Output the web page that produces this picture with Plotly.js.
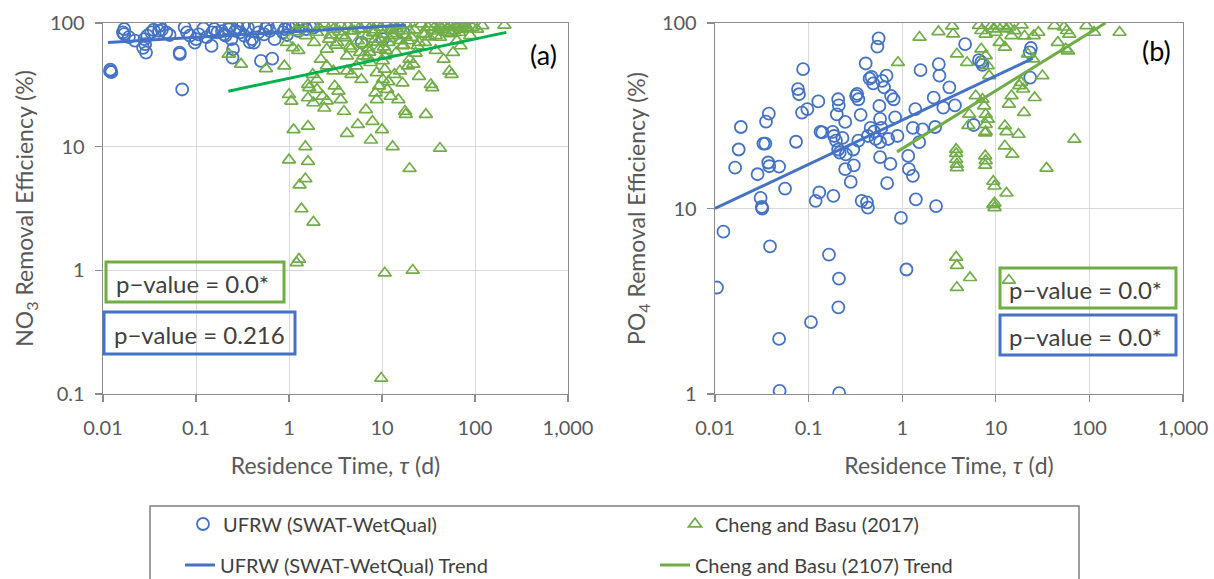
<!DOCTYPE html>
<html>
<head>
<meta charset="utf-8">
<script src="https://cdn.plot.ly/plotly-3.0.1.min.js"></script>
<style>
  html, body { margin: 0; padding: 0; background: #ffffff; }
  #chart { width: 1214px; height: 579px; }
</style>
</head>
<body>
<div id="chart"></div>
<script>
// ---- Residence time (d) vs NO3 removal efficiency (%) ----
const ufrwNo3Tau = [0.0119, 0.0123, 0.012, 0.0169, 0.0169, 0.0164, 0.0279, 0.0284, 0.029, 0.027, 0.03, 0.033,
  0.0407, 0.04, 0.043, 0.048, 0.0667, 0.071, 0.067, 0.0755, 0.08, 0.086, 0.1, 0.097, 0.107, 0.147, 0.15, 0.157,
  0.17, 0.2, 0.208, 0.225, 0.23, 0.24, 0.247, 0.25, 0.265, 0.28, 0.3, 0.33, 0.36, 0.4, 0.42, 0.44, 0.47, 0.5,
  0.54, 0.59, 0.62, 0.66, 0.7, 0.86, 0.9, 1.0, 1.1, 1.2, 1.26, 1.53, 1.67, 1.85, 6.05, 10.2, 17,
  0.019, 0.022, 0.035, 0.052, 0.12, 0.13, 0.19, 0.32, 0.38, 0.56, 0.75, 0.95, 1.4];
const ufrwNo3Eff = [40.8, 40, 42, 89.3, 81.4, 84, 74, 67.4, 57.7, 63, 79, 84,
  95, 86.5, 88.2, 84, 57.7, 29, 56, 92, 84, 79, 74, 69.5, 81, 65.3, 84, 89.3,
  84, 81, 79, 89, 95, 74, 52.5, 61.4, 86.5, 92, 84, 79, 92, 74, 69.5, 95, 84, 49.4,
  81, 95, 86.5, 51.5, 74, 84, 89.3, 92, 95, 98, 86.5, 89.3, 95, 92, 69.5, 74, 84,
  77, 72, 88, 80, 90, 77, 86, 96, 70, 90, 93, 80, 97];

const chengNo3Tau = [0.225, 0.305, 0.565, 0.89, 0.95, 1.0, 1.06, 1.12, 1.6, 1.0, 1.5, 1.6, 1.5, 1.3, 1.36, 1.83,
  1.6, 1.65, 1.6, 1.83, 2.0, 2.3, 2.4, 2.55, 3.1, 3.4, 3.6, 3.9, 4.2, 5.5, 4.7, 5.3, 6.0, 6.7, 7.9, 7.6, 10,
  8.5, 8.8, 9.3, 10.2, 11.4, 11.7, 12.4, 13, 13.6, 15, 16.6, 17.7, 18, 19.0, 19.8, 19.8, 25, 29.6, 33.5, 34.7,
  42, 53, 56, 46, 58, 70, 37.8, 25,
  1.37, 1.53, 1.86, 2.0, 2.4, 2.55, 2.7, 3.0, 3.3, 3.6, 3.7, 4.2, 4.3, 4.5, 4.8, 5.2, 5.5, 5.8, 6.0, 6.7, 6.9,
  7.1, 7.5, 7.7, 8.0, 8.5, 8.8, 9.3, 9.7, 10.2, 10.7, 11.3, 11.7, 12.4, 13, 13.6, 14.2, 15, 15.6, 16.5, 17.9,
  18.3, 19, 19.8, 21.7, 24.1, 26.5, 29, 33.4, 36.6, 37.8, 42, 44, 46, 48.6, 51, 53.5, 56.5, 59, 62, 65, 67.5,
  70.5, 74, 77.5, 84.6, 94, 105, 120, 207, 1.26, 1.1, 2.2, 2.55, 3.0, 2.0, 1.8, 4.2, 10.7, 15.6, 6.3, 8.8,
  10.2, 20.8, 29, 42, 67.5, 89,
  1.21, 1.28, 10.7, 21.4, 9.8,
  2.8, 3.2, 4.0, 5.0, 6.4, 7.3, 8.3, 9.0, 10.5, 12.0, 14.0, 16.0, 22.5, 27.5, 31.0, 2.1, 3.5, 4.6, 7.0, 9.5,
  11.0, 13.3, 17.0, 23.0, 32.0, 40.0, 55.0, 64.0, 80.0, 1.15, 1.45, 2.9, 5.6, 8.1, 12.8];
const chengNo3Eff = [55.9, 46.4, 42.7, 44.9, 69.5, 26.4, 23.3, 13.7, 14.6, 7.8, 10, 7.6, 5.5, 4.9, 3.14, 2.45,
  31.8, 30, 24.8, 22.6, 29, 25.6, 20.5, 23.4, 30.9, 28.1, 24, 19.3, 12.8, 15.1, 38.4, 44.9, 34.9, 19.9, 16, 11.3, 13.7,
  27.2, 24, 30.9, 34.9, 29, 33.5, 25.5, 10, 38.4, 24, 32.7, 19.3, 18.2, 44.9, 6.65, 50.9, 37, 18.2, 31.8, 30,
  9.7, 40.9, 38.4, 50.9, 57.7, 65.3, 60, 69.5,
  98, 79, 69.5, 84, 98, 61.4, 74, 89, 69.5, 96, 79, 54, 95, 65, 86.5, 98, 71.7, 57.7, 89, 98, 79,
  63, 47.8, 95, 84, 74, 98, 61.4, 92, 81, 54, 98, 69.5, 89, 79, 98, 57.7, 86.5, 95, 65.3, 79,
  98, 71.7, 86.5, 46.4, 65.3, 98, 81, 98, 92, 79, 95, 89, 98, 84, 92, 95, 98, 86.5, 95, 92, 98,
  89, 95, 98, 90, 92, 89, 95, 96, 60, 63, 50.9, 44.9, 40.9, 34.9, 38.4, 40.9, 42.2, 40.9, 54, 39.6,
  49.4, 76.5, 69.5, 76.5, 84, 79,
  1.15, 1.23, 0.95, 1.0, 0.134,
  80, 66, 76, 86, 68, 58, 88, 70, 64, 75, 90, 72, 88, 82, 93, 92, 85, 62, 53, 74,
  60, 82, 66, 57, 77, 86, 82, 72, 91, 85, 92, 97, 90, 83, 88];

// Power-law trend lines (end points)
const ufrwNo3TrendTau = [0.0113, 18.1];
const ufrwNo3TrendEff = [69.5, 96.3];
const chengNo3TrendTau = [0.223, 217];
const chengNo3TrendEff = [28.1, 84];

// ---- Residence time (d) vs PO4 removal efficiency (%) ----
const ufrwPo4Tau = [0.0123, 0.0164, 0.0179, 0.0189, 0.0285, 0.0307, 0.0316, 0.0329, 0.0345, 0.0351, 0.0376, 0.037,
  0.038, 0.0484, 0.056, 0.0734, 0.077, 0.079, 0.0873, 0.085, 0.097, 0.127, 0.119, 0.13, 0.134, 0.14, 0.184, 0.181,
  0.187, 0.196, 0.207, 0.21, 0.2, 0.207, 0.215, 0.23, 0.246, 0.25, 0.246, 0.282, 0.304, 0.3, 0.322, 0.33, 0.34,
  0.34, 0.369, 0.36, 0.407, 0.42, 0.43, 0.448, 0.47, 0.49, 0.43, 0.46, 0.5, 0.52, 0.543, 0.56, 0.58, 0.57, 0.58,
  0.6, 0.61, 0.64, 0.68, 0.69, 0.58, 0.71, 0.748, 0.76, 0.81, 0.84, 0.89, 0.97, 1.16, 1.18, 1.3, 1.3, 1.38, 1.4,
  1.52, 1.57, 1.65, 2.17, 2.25, 2.3, 2.46, 2.5, 2.75, 3.19, 3.66, 4.7, 5.8, 6.6, 7.0, 7.2, 23.7, 23.3, 23,
  0.0105, 0.0387, 0.0484, 0.049, 0.106, 0.165, 0.211, 0.208, 0.212, 1.11, 0.032];
const ufrwPo4Eff = [7.5, 16.6, 20.8, 27.5, 15.3, 11.4, 10.2, 22.4, 22.4, 29.4, 32.5, 17.7,
  16.9, 16.8, 12.8, 22.9, 44, 41.3, 56.4, 32.9, 34.3, 37.8, 11, 12.2, 25.9, 25.7, 11.7, 25.9,
  24.6, 23.2, 38.8, 36.0, 32.2, 20.8, 20, 24, 29.3, 19.6, 16.3, 13.9, 17.1, 20.8, 40.5, 41.5, 38.8,
  23.2, 11, 32, 60.5, 10.8, 10.1, 50.2, 51.2, 47.3, 24.6, 27.2, 26, 23.7, 74.5, 82.6, 18.9, 35.7, 30.4,
  27.2, 48.8, 45, 52, 13.7, 22.8, 23.7, 17.4, 40.5, 38.8, 31, 24.6, 8.9, 19.2, 16.3, 15, 27.2, 34.3, 11.2,
  22.8, 55.7, 26.7, 39.6, 27.5, 10.3, 60, 52, 35, 45, 36, 77, 28.2, 63, 61.5, 59.5, 73.3, 50.8, 69.4,
  3.75, 6.25, 1.98, 1.04, 2.44, 5.64, 4.19, 2.93, 1.01, 4.69, 10];

const chengPo4Tau = [1.53, 0.9, 2.44, 3.42, 3.5, 3.84, 4.93, 6.6, 7, 7.8, 7, 7.8, 8.2, 8.5, 7.5, 7.8, 7.8, 7.8,
  7.7, 8.2, 9, 9.4, 10, 10.3, 11, 11.9, 13, 14.7, 12.5, 13.8, 15.8, 18.9, 20.3, 12.5, 13, 13.8, 14.7, 17.8, 18.6,
  19.6, 20, 17.5, 12.5, 15, 26, 31.5, 34.8, 25.4, 28.5, 42.3, 46, 53.5, 57.5, 61, 56, 59, 69, 93, 112, 210, 22,
  25, 3.77, 3.77, 3.77, 3.84, 3.84, 7.7, 7.8, 7.7, 9.4, 9.7, 9.7, 9.4, 13, 5.1, 5.2, 6.1, 7.2,
  3.77, 3.84, 5.3, 3.84, 13.8, 9.7];
const chengPo4Eff = [83.7, 61.2, 89.8, 96.3, 87.2, 68, 61.2, 97, 91, 87, 72.4, 66.6, 58.8, 52, 35.7, 32.2, 28.4, 26,
  25.5, 30.3, 96.7, 92.8, 89, 96.7, 78.5, 96.7, 92.8, 85.4, 74, 95, 90.9, 97.5, 85, 27.9, 25.9, 36.5, 40.5, 45.9, 47.8,
  44, 32.9, 25.1, 21.7, 19.6, 39.6, 51.9, 16.5, 85.4, 89, 96.7, 78.5, 95, 91, 87, 72.4, 70.7, 23.6, 96.7, 89, 89, 68,
  64, 20.8, 19.8, 18.4, 17.3, 16.6, 19.2, 18.1, 17.1, 14, 13.2, 10.7, 10.5, 12.1, 28, 32.2, 40.5, 38.8,
  5.46, 4.93, 4.24, 3.75, 4.1, 10.1];

const ufrwPo4TrendTau = [0.01, 24.8];
const ufrwPo4TrendEff = [10, 64.4];
const chengPo4TrendTau = [0.88, 148.6];
const chengPo4TrendEff = [20.2, 100];

// ---- Labels ----
const seriesNames = ['UFRW (SWAT-WetQual)', 'Cheng and Basu (2017)',
                     'UFRW (SWAT-WetQual) Trend', 'Cheng and Basu (2107) Trend'];
const xTickVals = [0.01, 0.1, 1, 10, 100, 1000];
const xTickText = ['0.01', '0.1', '1', '10', '100', '1,000'];
const no3TickVals = [0.1, 1, 10, 100];
const no3TickText = ['0.1', '1', '10', '100'];
const po4TickVals = [1, 10, 100];
const po4TickText = ['1', '10', '100'];
const pValueNo3 = ['p\u2212value = 0.0*', 'p\u2212value = 0.216'];
const pValuePo4 = ['p\u2212value = 0.0*', 'p\u2212value = 0.0*'];
const panelTags = ['(a)', '(b)'];

// ---- Styling ----
const BLUE = '#4472C4';
const GREEN = '#70AD47';
const GREEN_A = '#00B050';
const FONT = 'Lato, "Open Sans", sans-serif';
const W = 1214, H = 579;
const px = v => v / W;          // pixel -> paper x
const py = v => 1 - v / H;      // pixel -> paper y

const circle = { symbol: 'circle-open', size: 12, color: BLUE, line: { color: BLUE, width: 1.8 } };
const tri = { symbol: 'triangle-up-open', size: 11.5, color: GREEN, line: { color: GREEN, width: 1.7 } };

const traces = [
  { x: ufrwNo3Tau, y: ufrwNo3Eff, type: 'scatter', mode: 'markers', marker: circle,
    name: seriesNames[0], xaxis: 'x', yaxis: 'y', legend: 'legend' },
  { x: chengNo3Tau, y: chengNo3Eff, type: 'scatter', mode: 'markers', marker: tri,
    name: seriesNames[1], xaxis: 'x', yaxis: 'y', legend: 'legend' },
  { x: ufrwNo3TrendTau, y: ufrwNo3TrendEff, type: 'scatter', mode: 'lines',
    line: { color: BLUE, width: 3 }, name: seriesNames[2], xaxis: 'x', yaxis: 'y', legend: 'legend2' },
  { x: chengNo3TrendTau, y: chengNo3TrendEff, type: 'scatter', mode: 'lines',
    line: { color: GREEN_A, width: 3 }, name: seriesNames[3], xaxis: 'x', yaxis: 'y', showlegend: false },

  { x: ufrwPo4Tau, y: ufrwPo4Eff, type: 'scatter', mode: 'markers', marker: circle,
    name: seriesNames[0], xaxis: 'x2', yaxis: 'y2', showlegend: false },
  { x: chengPo4Tau, y: chengPo4Eff, type: 'scatter', mode: 'markers', marker: tri,
    name: seriesNames[1], xaxis: 'x2', yaxis: 'y2', showlegend: false },
  { x: ufrwPo4TrendTau, y: ufrwPo4TrendEff, type: 'scatter', mode: 'lines',
    line: { color: BLUE, width: 3 }, name: seriesNames[2], xaxis: 'x2', yaxis: 'y2', showlegend: false },
  { x: chengPo4TrendTau, y: chengPo4TrendEff, type: 'scatter', mode: 'lines',
    line: { color: GREEN, width: 3 }, name: seriesNames[3], xaxis: 'x2', yaxis: 'y2', legend: 'legend2' }
];

const axisCommon = {
  type: 'log', showline: true, linecolor: '#8c8c8c', linewidth: 1.3, mirror: true,
  showgrid: true, gridcolor: '#d9d9d9', gridwidth: 1, zeroline: false,
  ticks: 'outside', ticklen: 7, tickcolor: '#8c8c8c', tickwidth: 1.3,
  tickfont: { family: FONT, size: 20, color: '#595959' }, tickmode: 'array'
};
const xAxisCommon = Object.assign({}, axisCommon, { ticklabelstandoff: 9 });
const yAxisCommon = Object.assign({}, axisCommon, { ticklabelstandoff: 6 });
const titleFont = { family: FONT, size: 23, color: '#595959' };

const legendCommon = {
  orientation: 'h', xanchor: 'left', yanchor: 'middle',
  bgcolor: 'rgba(0,0,0,0)', borderwidth: 0,
  entrywidthmode: 'pixels', traceorder: 'normal',
  font: { family: FONT, size: 20, color: '#404040' }
};

const layout = {
  width: W, height: H,
  margin: { l: 0, r: 0, t: 0, b: 0, autoexpand: false },
  paper_bgcolor: '#ffffff', plot_bgcolor: '#ffffff',
  font: { family: FONT, color: '#404040' },
  showlegend: true,
  xaxis: Object.assign({}, xAxisCommon, {
    domain: [px(103), px(568)], range: [-2, 3], anchor: 'y',
    tickvals: xTickVals, ticktext: xTickText,
    title: { text: 'Residence Time, <i>\u03c4</i> (d)', font: titleFont, standoff: 19 }
  }),
  yaxis: Object.assign({}, yAxisCommon, {
    domain: [py(394), py(23)], range: [-1, 2], anchor: 'x',
    tickvals: no3TickVals, ticktext: no3TickText,
    title: { text: 'NO<sub>3</sub> Removal Efficiency (%)', font: titleFont, standoff: 9 }
  }),
  xaxis2: Object.assign({}, xAxisCommon, {
    domain: [px(715), px(1183)], range: [-2, 3], anchor: 'y2',
    tickvals: xTickVals, ticktext: xTickText,
    title: { text: 'Residence Time, <i>\u03c4</i> (d)', font: titleFont, standoff: 19 }
  }),
  yaxis2: Object.assign({}, yAxisCommon, {
    domain: [py(394), py(23)], range: [0, 2], anchor: 'x2',
    tickvals: po4TickVals, ticktext: po4TickText,
    title: { text: 'PO<sub>4</sub> Removal Efficiency (%)', font: titleFont, standoff: 9 }
  }),
  legend: Object.assign({}, legendCommon, { x: px(183), y: py(524), entrywidth: 447 }),
  legend2: Object.assign({}, legendCommon, { x: px(180), y: py(565), entrywidth: 430 }),
  shapes: [
    // legend frame (runs past the lower edge)
    { type: 'rect', xref: 'paper', yref: 'paper', x0: px(150), x1: px(1079), y0: py(620), y1: py(506),
      line: { color: '#7f7f7f', width: 1.5 }, fillcolor: 'rgba(0,0,0,0)', layer: 'below' },
    // p-value frames, panel (a)
    { type: 'rect', xref: 'paper', yref: 'paper', x0: px(106), x1: px(284), y0: py(302), y1: py(262),
      line: { color: GREEN, width: 3 } },
    { type: 'rect', xref: 'paper', yref: 'paper', x0: px(104), x1: px(295), y0: py(354), y1: py(312),
      line: { color: BLUE, width: 3 } },
    // p-value frames, panel (b)
    { type: 'rect', xref: 'paper', yref: 'paper', x0: px(1000), x1: px(1176), y0: py(308), y1: py(268),
      line: { color: GREEN, width: 3 } },
    { type: 'rect', xref: 'paper', yref: 'paper', x0: px(1000), x1: px(1176), y0: py(355), y1: py(315),
      line: { color: BLUE, width: 3 } }
  ],
  annotations: [
    { xref: 'paper', yref: 'paper', x: px(114), y: py(283), xanchor: 'left', yanchor: 'middle',
      text: pValueNo3[0], showarrow: false, font: { family: FONT, size: 24, color: '#404040' } },
    { xref: 'paper', yref: 'paper', x: px(112), y: py(334), xanchor: 'left', yanchor: 'middle',
      text: pValueNo3[1], showarrow: false, font: { family: FONT, size: 24, color: '#404040' } },
    { xref: 'paper', yref: 'paper', x: px(1007), y: py(289), xanchor: 'left', yanchor: 'middle',
      text: pValuePo4[0], showarrow: false, font: { family: FONT, size: 24, color: '#404040' } },
    { xref: 'paper', yref: 'paper', x: px(1007), y: py(336), xanchor: 'left', yanchor: 'middle',
      text: pValuePo4[1], showarrow: false, font: { family: FONT, size: 24, color: '#404040' } },
    { xref: 'paper', yref: 'paper', x: px(543), y: py(54), xanchor: 'center', yanchor: 'middle',
      text: panelTags[0], showarrow: false, font: { family: FONT, size: 27, color: '#000000' } },
    { xref: 'paper', yref: 'paper', x: px(1156), y: py(50), xanchor: 'center', yanchor: 'middle',
      text: panelTags[1], showarrow: false, font: { family: FONT, size: 27, color: '#000000' } }
  ]
};

Plotly.newPlot('chart', traces, layout, { displayModeBar: false, staticPlot: true });
</script>
</body>
</html>
